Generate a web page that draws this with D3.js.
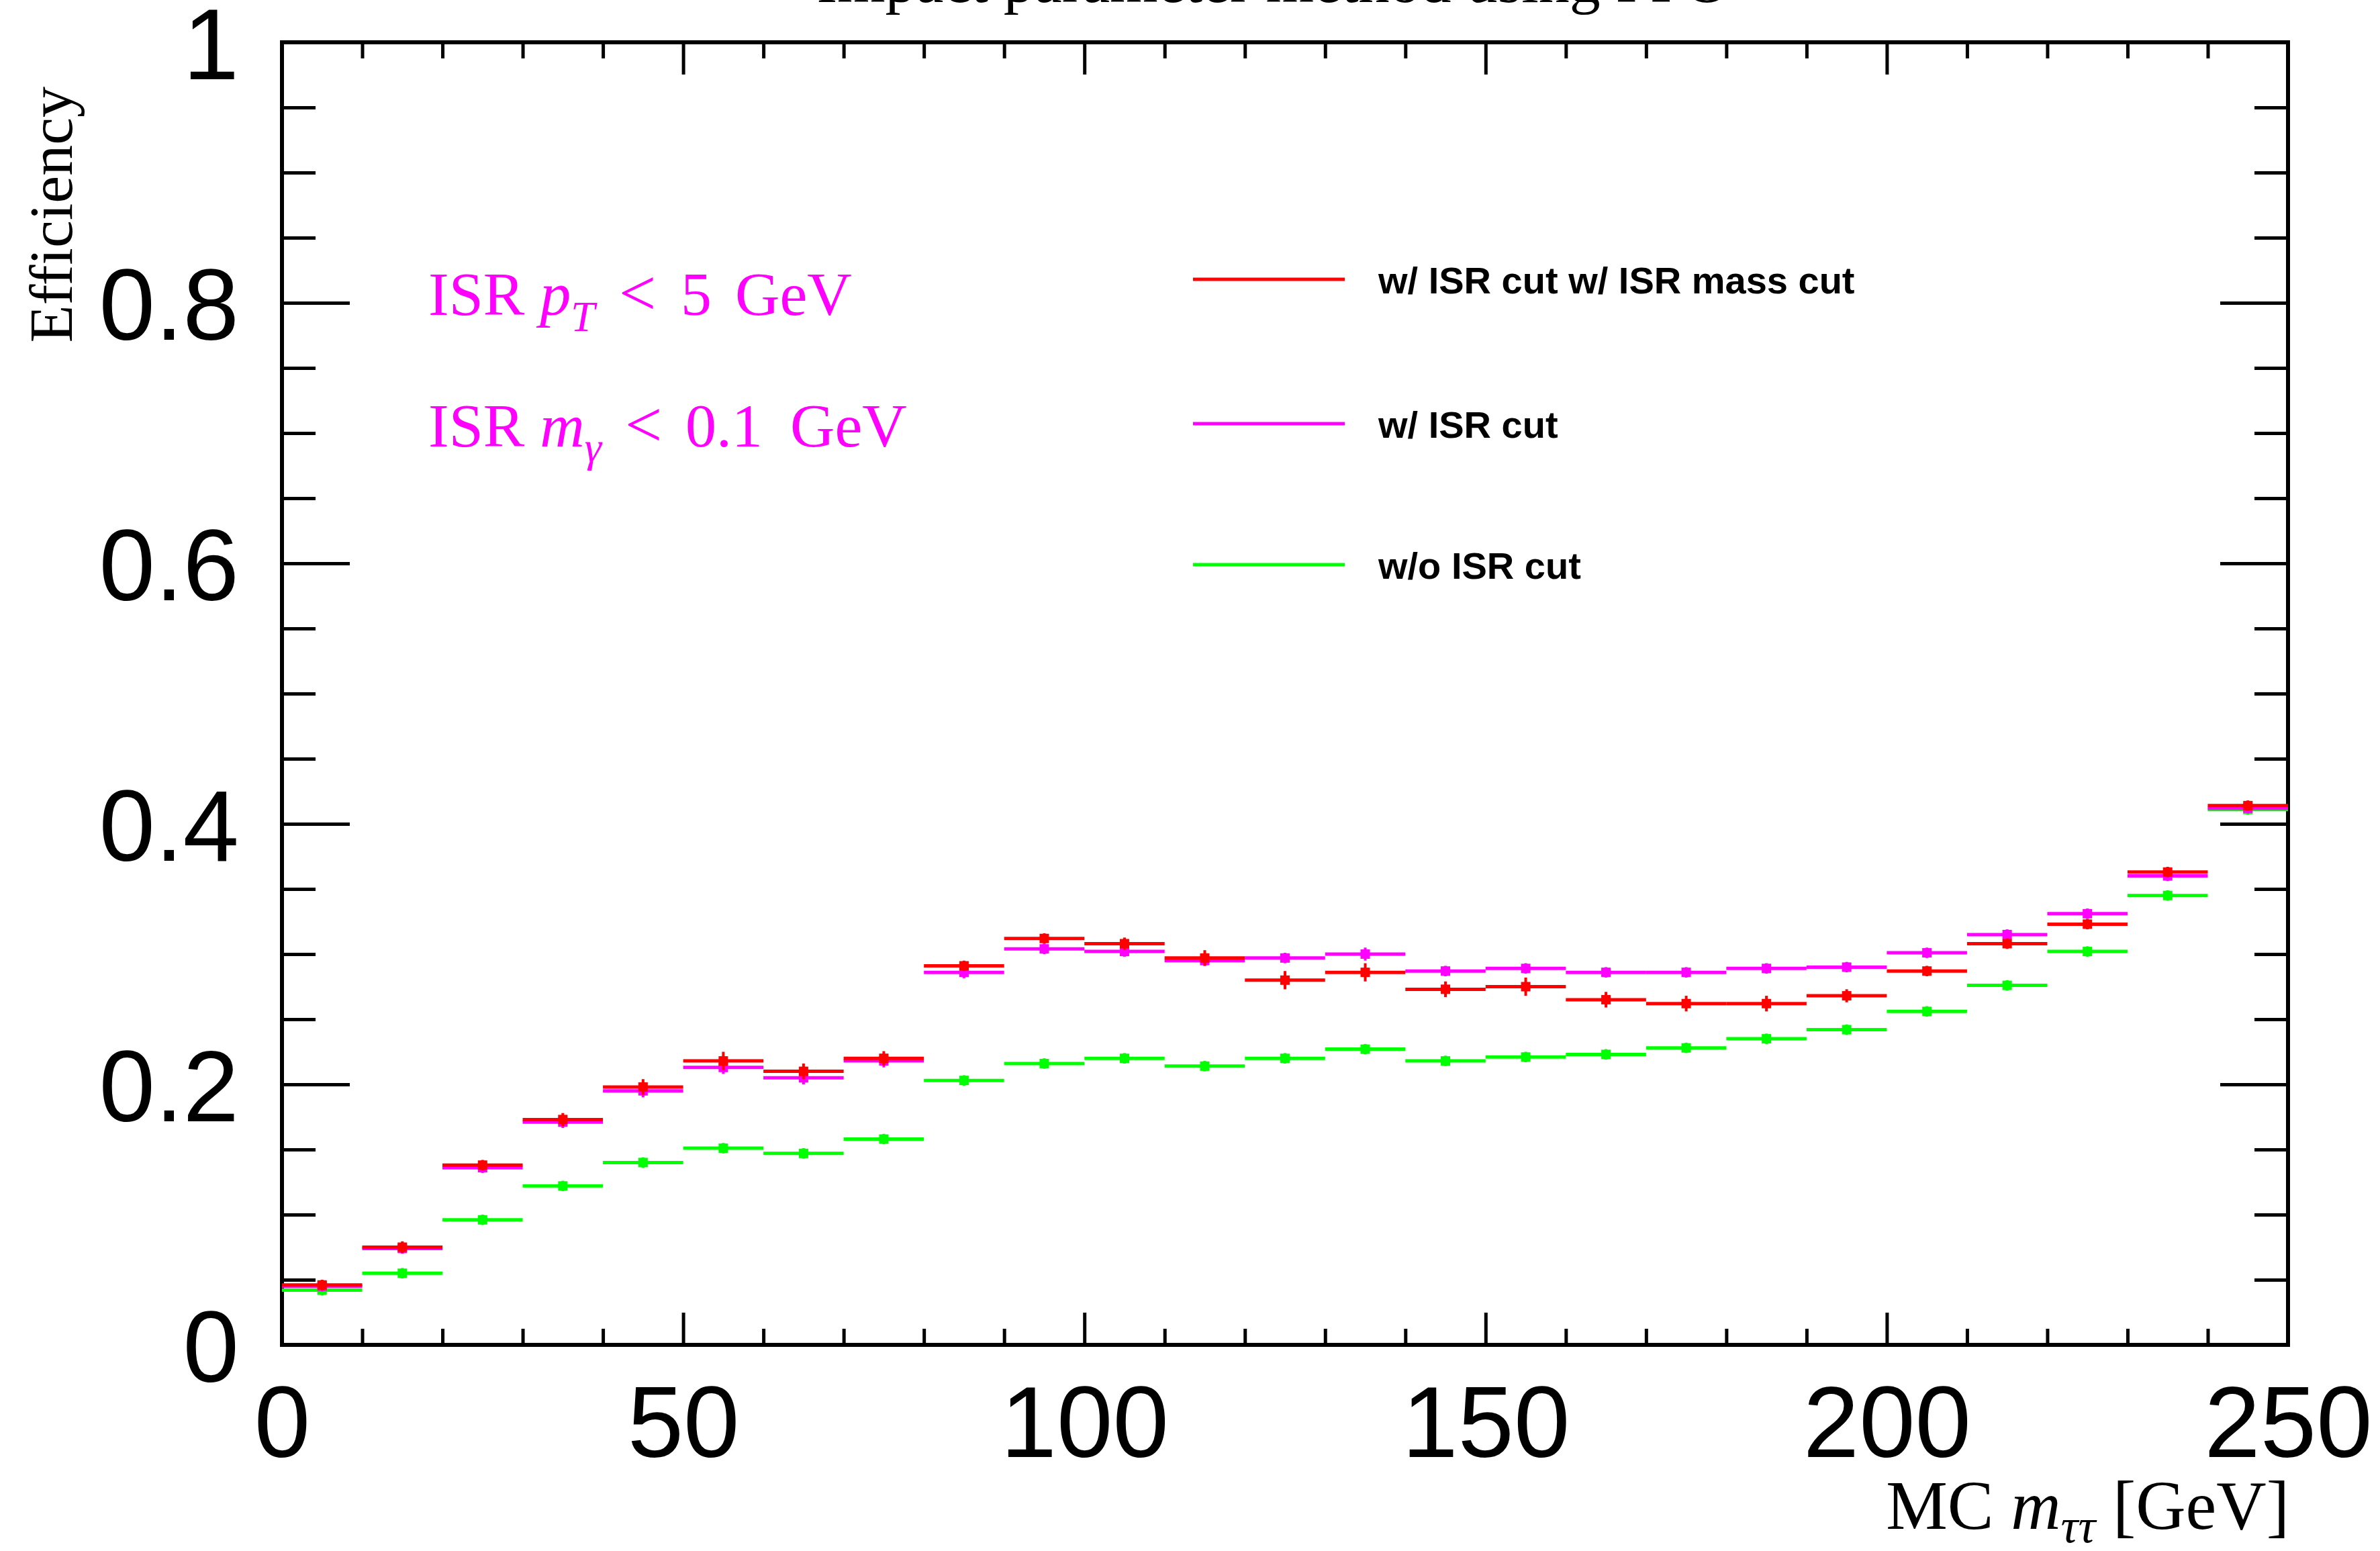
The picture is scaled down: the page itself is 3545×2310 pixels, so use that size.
<!DOCTYPE html>
<html><head><meta charset="utf-8">
<script src="https://cdn.jsdelivr.net/npm/d3@7"></script>
<style>html,body{margin:0;padding:0;background:#fff;}svg{display:block;}</style>
</head><body>
<script>
// ---------------- data ----------------
const binCenters = [5,15,25,35,45,55,65,75,85,95,105,115,125,135,145,155,165,175,185,195,205,215,225,235,245];
const binHalfWidth = 5;

const effMassCut = [0.046,0.075,0.138,0.173,0.198,0.218,0.210,0.220,0.291,0.312,0.308,0.297,0.280,0.286,0.273,0.275,0.265,0.262,0.262,0.268,0.287,0.308,0.323,0.363,0.414];
const errMassCut = [0.004,0.0045,0.004,0.005,0.006,0.007,0.006,0.0055,0.004,0.004,0.0047,0.006,0.007,0.007,0.006,0.007,0.006,0.006,0.006,0.005,0.004,0.004,0.004,0.004,0.004];

const effISRCut = [0.045,0.074,0.136,0.171,0.195,0.213,0.205,0.218,0.286,0.304,0.302,0.295,0.297,0.300,0.287,0.289,0.286,0.286,0.289,0.290,0.301,0.315,0.331,0.360,0.412];
const errISRCut = [0.004,0.004,0.004,0.0045,0.005,0.005,0.005,0.005,0.0045,0.004,0.004,0.004,0.004,0.005,0.004,0.004,0.004,0.004,0.004,0.004,0.004,0.004,0.004,0.004,0.004];

const effNoCut = [0.042,0.055,0.096,0.122,0.140,0.151,0.147,0.158,0.203,0.216,0.220,0.214,0.220,0.227,0.218,0.221,0.223,0.228,0.235,0.242,0.256,0.276,0.302,0.345,0.411];
const errNoCut = [0.004,0.004,0.004,0.004,0.004,0.004,0.004,0.004,0.004,0.004,0.004,0.004,0.004,0.004,0.004,0.004,0.004,0.004,0.004,0.004,0.004,0.004,0.004,0.004,0.004];

const seriesNames = ["w/ ISR cut w/ ISR mass cut","w/ ISR cut","w/o ISR cut"];
const seriesColors = ["#ff0000","#ff00ff","#00ff00"];

const xMajorTicks = [0,50,100,150,200,250];
const xTickLabels = ["0","50","100","150","200","250"];
const yMajorTicks = [0,0.2,0.4,0.6,0.8,1];
const yTickLabels = ["0","0.2","0.4","0.6","0.8","1"];

// ---------------- layout ----------------
const W = 3545, H = 2310;
const svg = d3.select("body").append("svg").attr("width", W).attr("height", H);
svg.append("rect").attr("width", W).attr("height", H).attr("fill", "#fff");

const x = d3.scaleLinear().domain([0,250]).range([420,3408]);
const y = d3.scaleLinear().domain([0,1]).range([2003,63]);

const xMinorTicks = d3.range(0,251,10).filter(v => v % 50 !== 0);
const yMinorTicks = d3.range(0,1.0001,0.05).map(v => +v.toFixed(2)).filter(v => Math.round(v*100) % 20 !== 0);

const SANS = "'Liberation Sans', Arial, Helvetica, sans-serif";
const SERIF = "'Liberation Serif', 'Times New Roman', Times, serif";

function styleAxis(g, sw) {
  g.select(".domain").remove();
  g.selectAll(".tick line").attr("stroke", "#000").attr("stroke-width", sw);
  g.selectAll("text").attr("font-family", SANS).attr("font-size", 150).attr("fill", "#000");
}

// bottom
svg.append("g").attr("transform", `translate(0,${y(0)})`)
  .call(d3.axisBottom(x).tickValues(xMajorTicks).tickSize(-48).tickSizeOuter(0).tickPadding(60)
        .tickFormat((d,i) => xTickLabels[i]))
  .call(g => styleAxis(g, 5));
svg.append("g").attr("transform", `translate(0,${y(0)})`)
  .call(d3.axisBottom(x).tickValues(xMinorTicks).tickSize(-24).tickSizeOuter(0).tickFormat(""))
  .call(g => styleAxis(g, 5));
// top
svg.append("g").attr("transform", `translate(0,${y(1)})`)
  .call(d3.axisTop(x).tickValues(xMajorTicks).tickSize(-48).tickSizeOuter(0).tickFormat(""))
  .call(g => styleAxis(g, 5));
svg.append("g").attr("transform", `translate(0,${y(1)})`)
  .call(d3.axisTop(x).tickValues(xMinorTicks).tickSize(-24).tickSizeOuter(0).tickFormat(""))
  .call(g => styleAxis(g, 5));
// left
svg.append("g").attr("transform", `translate(${x(0)},0)`)
  .call(d3.axisLeft(y).tickValues(yMajorTicks).tickSize(-101).tickSizeOuter(0).tickPadding(64)
        .tickFormat((d,i) => yTickLabels[i]))
  .call(g => { styleAxis(g, 5); g.selectAll("text").attr("dy", "0.36em"); });
svg.append("g").attr("transform", `translate(${x(0)},0)`)
  .call(d3.axisLeft(y).tickValues(yMinorTicks).tickSize(-50).tickSizeOuter(0).tickFormat(""))
  .call(g => styleAxis(g, 5));
// right
svg.append("g").attr("transform", `translate(${x(250)},0)`)
  .call(d3.axisRight(y).tickValues(yMajorTicks).tickSize(-101).tickSizeOuter(0).tickFormat(""))
  .call(g => styleAxis(g, 5));
svg.append("g").attr("transform", `translate(${x(250)},0)`)
  .call(d3.axisRight(y).tickValues(yMinorTicks).tickSize(-50).tickSizeOuter(0).tickFormat(""))
  .call(g => styleAxis(g, 5));

// frame
svg.append("rect").attr("x", x(0)).attr("y", y(1)).attr("width", x(250)-x(0)).attr("height", y(0)-y(1))
  .attr("fill", "none").attr("stroke", "#000").attr("stroke-width", 6);

// ---------------- data marks ----------------
function drawSeries(vals, errs, color) {
  const rows = binCenters.map((c,i) => ({c, v: vals[i], e: errs[i]}));
  const g = svg.append("g");
  g.selectAll("line.h").data(rows).join("line").attr("class","h")
    .attr("x1", d => x(d.c - binHalfWidth)).attr("x2", d => x(d.c + binHalfWidth))
    .attr("y1", d => y(d.v)).attr("y2", d => y(d.v))
    .attr("stroke", color).attr("stroke-width", 5);
  g.selectAll("line.v").data(rows).join("line").attr("class","v")
    .attr("x1", d => x(d.c)).attr("x2", d => x(d.c))
    .attr("y1", d => y(d.v - d.e)).attr("y2", d => y(d.v + d.e))
    .attr("stroke", color).attr("stroke-width", 4);
  g.selectAll("rect").data(rows).join("rect")
    .attr("x", d => x(d.c) - 7).attr("y", d => y(d.v) - 7)
    .attr("width", 14).attr("height", 14).attr("fill", color);
}
drawSeries(effNoCut, errNoCut, seriesColors[2]);
drawSeries(effISRCut, errISRCut, seriesColors[1]);
drawSeries(effMassCut, errMassCut, seriesColors[0]);

// ---------------- legend ----------------
const legendY = [416, 631, 841];
const leg = svg.append("g");
seriesNames.forEach((name, i) => {
  leg.append("line").attr("x1", 1777).attr("x2", 2003).attr("y1", legendY[i]).attr("y2", legendY[i])
    .attr("stroke", seriesColors[i]).attr("stroke-width", 5);
  leg.append("text").attr("x", 2053).attr("y", legendY[i] + 21)
    .attr("font-family", SANS).attr("font-weight", "bold").attr("font-size", 56).attr("fill", "#000")
    .text(name);
});

// ---------------- texts ----------------
svg.append("text").attr("x", 1896).attr("y", 3).attr("text-anchor", "middle")
  .attr("font-family", SERIF).attr("font-size", 92).attr("fill", "#000")
  .text("Impact parameter method using PFO");

svg.append("text").attr("transform", "translate(107,129) rotate(-90)").attr("text-anchor", "end")
  .attr("font-family", SERIF).attr("font-size", 92).attr("fill", "#000")
  .text("Efficiency");

const xt = svg.append("text").attr("x", 3410).attr("y", 2277).attr("text-anchor", "end")
  .attr("font-family", SERIF).attr("font-size", 103).attr("fill", "#000");
xt.append("tspan").text("MC ");
xt.append("tspan").attr("font-style", "italic").text("m");
xt.append("tspan").attr("font-style", "italic").attr("font-size", 72).attr("dy", 20).text("ττ");
xt.append("tspan").attr("dy", -20).text(" [GeV]");

const a1 = svg.append("text").attr("x", 638).attr("y", 469)
  .attr("font-family", SERIF).attr("font-size", 92).attr("fill", "#ff00ff");
a1.append("tspan").text("ISR ");
a1.append("tspan").attr("font-style", "italic").text("p");
a1.append("tspan").attr("font-style", "italic").attr("font-size", 64).attr("dy", 24).text("T");
a1.append("tspan").attr("dy", -24).attr("x", 922).attr("font-size", 98).text("<");
a1.append("tspan").attr("x", 1014).text("5");
a1.append("tspan").attr("x", 1095).text("GeV");

const a2 = svg.append("text").attr("x", 638).attr("y", 665)
  .attr("font-family", SERIF).attr("font-size", 92).attr("fill", "#ff00ff");
a2.append("tspan").text("ISR ");
a2.append("tspan").attr("font-style", "italic").text("m");
a2.append("tspan").attr("font-style", "italic").attr("font-size", 64).attr("dy", 22).text("γ");
a2.append("tspan").attr("dy", -22).attr("x", 931).attr("font-size", 98).text("<");
a2.append("tspan").attr("x", 1021).text("0.1");
a2.append("tspan").attr("x", 1177).text("GeV");
</script>
</body></html>
